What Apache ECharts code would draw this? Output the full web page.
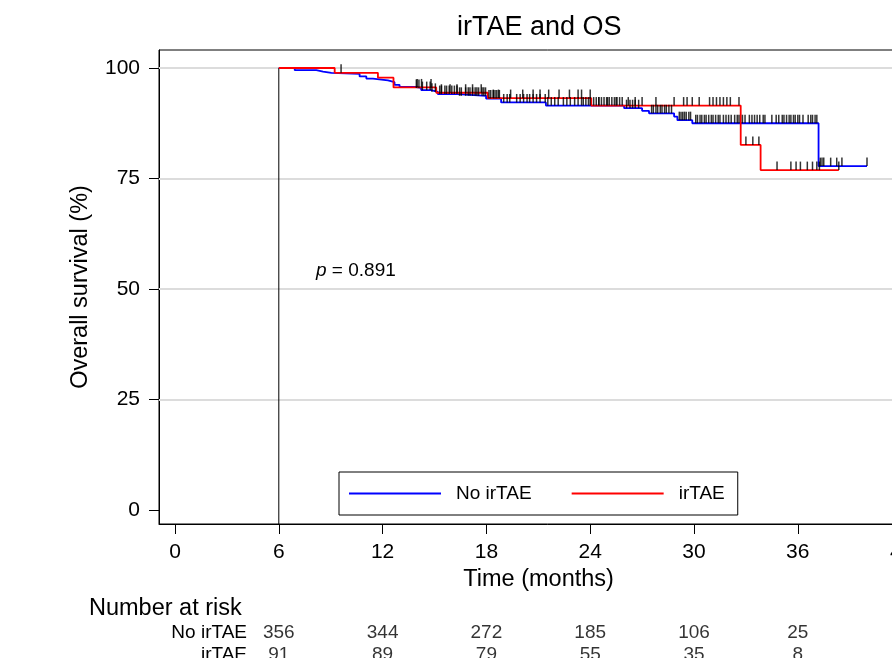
<!DOCTYPE html>
<html>
<head>
<meta charset="utf-8">
<title>irTAE and OS</title>
<script src="https://cdn.jsdelivr.net/npm/echarts@6/dist/echarts.min.js"></script>
<style>
    html, body { margin: 0; padding: 0; background: #fff; overflow: hidden; }
    /* the plot runs off the right and bottom edges of the picture, so the canvas is larger than the window */
    #main { width: 960px; height: 700px; }
</style>
</head>
<body>
<div id="main"></div>
<script>
// Kaplan-Meier steps (months, % surviving)
var noTime = [6, 6.92, 8.17, 8.56, 9.04, 10.67, 11.06, 11.44, 12.31, 12.69, 12.98, 13.94, 14.23, 14.81, 15.19, 16.35, 17.98, 18.85, 21.44, 25.96, 27.0, 27.4, 28.85, 29.04, 29.9, 37.2, 40.0];
var noSurv = [100, 99.5, 99.2, 98.9, 98.7, 98.1, 97.6, 97.2, 96.8, 96.2, 95.7, 95.5, 95.0, 94.6, 94.1, 93.7, 93.1, 92.2, 91.5, 90.9, 90.3, 89.75, 89.0, 88.2, 87.5, 77.8, 77.8];

var irTime = [6, 9.23, 11.73, 12.63, 15.1, 18.08, 24.06, 32.7, 33.85, 38.37];
var irSurv = [100, 98.9, 97.8, 95.6, 94.4, 93.2, 91.5, 82.6, 76.9, 76.9];

// censoring times (tick marks)
var noCens = [13.95, 14.1, 14.3, 14.55, 14.75, 14.85, 15.05, 15.3, 15.4, 15.6, 15.7, 15.85, 16.0, 16.15, 16.3, 16.45, 16.55, 16.8, 16.95, 17.05,
    17.2, 17.35, 17.45, 17.55, 17.75, 17.85, 17.95, 18.15, 18.25, 18.4, 18.5, 18.6, 18.75, 19.0, 19.2, 19.35, 19.75, 19.95, 20.15, 20.35,
    20.5, 20.7, 20.9, 21.1, 21.4, 21.55, 21.75, 21.95, 22.15, 22.45, 22.65, 22.85, 23.1, 23.3, 23.5, 23.6, 23.75, 23.9, 24.0, 24.2,
    24.35, 24.5, 24.65, 24.8, 24.95, 25.1, 25.25, 25.4, 25.55, 25.7, 25.85, 26.1, 26.3, 26.45, 26.6, 26.8, 27.55, 27.65, 27.8, 27.9,
    28.05, 28.15, 28.3, 28.4, 28.55, 28.7, 29.15, 29.25, 29.35, 29.45, 29.55, 29.7, 29.8, 30.1, 30.2, 30.35, 30.45, 30.6, 30.7, 30.85,
    31.0, 31.1, 31.25, 31.4, 31.5, 31.7, 31.85, 32.0, 32.15, 32.35, 32.5, 32.6, 32.8, 32.95, 33.2, 33.35, 33.5, 33.65, 33.8, 34.0,
    34.1, 34.5, 34.75, 34.9, 35.1, 35.2, 35.35, 35.5, 35.6, 35.75, 35.85, 36.0, 36.1, 36.3, 36.6, 36.75, 36.85, 37.0, 37.1,
    37.3, 37.4, 37.5, 37.9, 38.25, 38.55, 40.0];
var irCens = [9.6, 14.0, 14.25, 14.8, 15.4, 15.9, 16.3, 16.8, 17.2, 17.7, 18.4, 18.7, 19.4, 20.1, 20.7, 21.1, 21.6, 22.2, 22.8, 23.3,
    23.5, 24.0, 24.5, 25.0, 25.5, 26.2, 26.6, 27.0, 27.8, 28.85, 29.4, 29.6, 29.9, 30.3, 30.9, 31.1, 31.3, 31.5, 31.7, 31.9,
    32.1, 32.6, 33.0, 33.4, 33.75, 34.8, 35.6, 35.9, 36.15, 36.55, 36.85, 37.1, 37.25, 38.37];

// number at risk
var riskTimes = [6, 12, 18, 24, 30, 36];
var noRisk = [356, 344, 272, 185, 106, 25];
var irRisk = [91, 89, 79, 55, 35, 8];
var riskRows = ['No irTAE', 'irTAE'];

var xTicks = [0, 6, 12, 18, 24, 30, 36, 42];
var yTicks = [0, 25, 50, 75, 100];
var gridLines = [25, 50, 75, 100];

var FONT = '"Liberation Sans", Arial, Helvetica, sans-serif';
var X_MIN = -0.925, X_MAX = 44;
var Y_MIN = -3.17, Y_MAX = 104.07;

function toPairs(times, surv) {
    return times.map(function (t, i) { return [t, surv[i]]; });
}

function survAt(times, surv, t) {
    var s = surv[0];
    for (var i = 0; i < times.length; i++) {
        if (times[i] <= t) s = surv[i];
    }
    return s;
}

function censPoints(cens, times, surv) {
    return cens.map(function (c) { return [c, survAt(times, surv, c)]; });
}

function riskPoints(counts, row) {
    return riskTimes.map(function (t, i) { return [t, row, counts[i]]; });
}

var chart = echarts.init(document.getElementById('main'));

var riskLabel = {
    show: true, position: 'inside', fontFamily: FONT, fontSize: 19, color: '#000',
    formatter: function (p) { return p.value[2]; }
};

var option = {
    animation: false,
    backgroundColor: '#fff',
    textStyle: { fontFamily: FONT, color: '#000' },
    title: {
        text: 'irTAE and OS',
        left: 457,
        top: 14,
        padding: 0,
        textStyle: { fontFamily: FONT, fontSize: 27, fontWeight: 'normal', color: '#000' }
    },
    legend: {
        data: [{ name: 'No irTAE', icon: 'rect' }, { name: 'irTAE', icon: 'rect' }],
        left: 339,
        top: 472,
        padding: [12, 13, 12, 10],
        itemWidth: 92,
        itemHeight: 2,
        itemGap: 40,
        borderColor: '#000',
        borderWidth: 1,
        borderRadius: 0,
        backgroundColor: '#fff',
        textStyle: { fontFamily: FONT, fontSize: 19, color: '#000', padding: [0, 0, 0, 10] }
    },
    grid: [
        { left: 159, top: 50, width: 777.2, height: 474, show: true, borderColor: '#000', borderWidth: 1, backgroundColor: 'transparent' },
        { left: 159, top: 622, width: 777.2, height: 44 }
    ],
    xAxis: [
        {
            type: 'value', gridIndex: 0, min: X_MIN, max: X_MAX,
            name: 'Time (months)', nameLocation: 'middle', nameGap: 42,
            nameTextStyle: { fontFamily: FONT, fontSize: 23.5, color: '#000', padding: [0, 18, 0, 0] },
            axisLine: { show: true, onZero: false, lineStyle: { color: '#000', width: 1 } },
            axisTick: { show: true, length: 10, customValues: xTicks, lineStyle: { color: '#000', width: 1 } },
            axisLabel: { customValues: xTicks, margin: 18, fontFamily: FONT, fontSize: 21, color: '#000' },
            splitLine: { show: false }
        },
        {
            type: 'value', gridIndex: 1, min: X_MIN, max: X_MAX, show: false
        }
    ],
    yAxis: [
        {
            type: 'value', gridIndex: 0, min: Y_MIN, max: Y_MAX,
            name: 'Overall survival (%)', nameLocation: 'middle', nameGap: 66, nameRotate: 90,
            nameTextStyle: { fontFamily: FONT, fontSize: 23.5, color: '#000' },
            axisLine: { show: true, onZero: false, lineStyle: { color: '#000', width: 1 } },
            axisTick: { show: true, length: 10, customValues: yTicks, lineStyle: { color: '#000', width: 1 } },
            axisLabel: { customValues: yTicks, margin: 19, fontFamily: FONT, fontSize: 21, color: '#000' },
            splitLine: { show: false }
        },
        {
            type: 'category', gridIndex: 1, data: riskRows, inverse: true,
            axisLine: { show: false },
            axisTick: { show: false },
            axisLabel: { interval: 0, margin: -88, fontFamily: FONT, fontSize: 19, color: '#000' },
            splitLine: { show: false }
        }
    ],
    graphic: [
        {
            type: 'text', left: 89, top: 597,
            style: { text: 'Number at risk', font: '23.5px ' + FONT, fill: '#000' }
        },
        {
            type: 'text', left: 316, top: 261,
            style: {
                text: '{i|p} = 0.891',
                font: '19px ' + FONT,
                fill: '#000',
                rich: { i: { fontStyle: 'italic', fontFamily: FONT, fontSize: 19 } }
            }
        }
    ],
    series: [
        {
            // horizontal reference lines, kept under the curves
            type: 'line', xAxisIndex: 0, yAxisIndex: 0, data: [], silent: true, z: 1,
            markLine: {
                silent: true, symbol: 'none', z: 1, label: { show: false },
                lineStyle: { color: '#dcdcdc', width: 2, type: 'solid' },
                data: gridLines.map(function (v) { return { yAxis: v }; })
            }
        },
        {
            // vertical drop at the start of follow-up
            type: 'line', xAxisIndex: 0, yAxisIndex: 0, silent: true,
            data: [[6, 100], [6, Y_MIN]],
            showSymbol: false, symbol: 'none',
            lineStyle: { color: '#000', width: 1 },
            z: 6
        },
        {
            name: 'No irTAE', type: 'line', xAxisIndex: 0, yAxisIndex: 0,
            step: 'end', showSymbol: false, symbol: 'none',
            data: toPairs(noTime, noSurv),
            itemStyle: { color: '#0000ff' },
            lineStyle: { color: '#0000ff', width: 1.8 },
            z: 7
        },
        {
            name: 'irTAE', type: 'line', xAxisIndex: 0, yAxisIndex: 0,
            step: 'end', showSymbol: false, symbol: 'none',
            data: toPairs(irTime, irSurv),
            itemStyle: { color: '#ff0000' },
            lineStyle: { color: '#ff0000', width: 1.8 },
            z: 8
        },
        {
            type: 'scatter', xAxisIndex: 0, yAxisIndex: 0, silent: true,
            data: censPoints(noCens, noTime, noSurv),
            symbol: 'rect', symbolSize: [1.5, 8.5], symbolOffset: [0, '-50%'],
            itemStyle: { color: '#000' },
            z: 9
        },
        {
            type: 'scatter', xAxisIndex: 0, yAxisIndex: 0, silent: true,
            data: censPoints(irCens, irTime, irSurv),
            symbol: 'rect', symbolSize: [1.5, 8.5], symbolOffset: [0, '-50%'],
            itemStyle: { color: '#000' },
            z: 9
        },
        {
            type: 'scatter', xAxisIndex: 1, yAxisIndex: 1, silent: true,
            data: riskPoints(noRisk, 0),
            symbolSize: 0, itemStyle: { color: 'transparent' },
            label: riskLabel
        },
        {
            type: 'scatter', xAxisIndex: 1, yAxisIndex: 1, silent: true,
            data: riskPoints(irRisk, 1),
            symbolSize: 0, itemStyle: { color: 'transparent' },
            label: riskLabel
        }
    ]
};

chart.setOption(option);
</script>
</body>
</html>
